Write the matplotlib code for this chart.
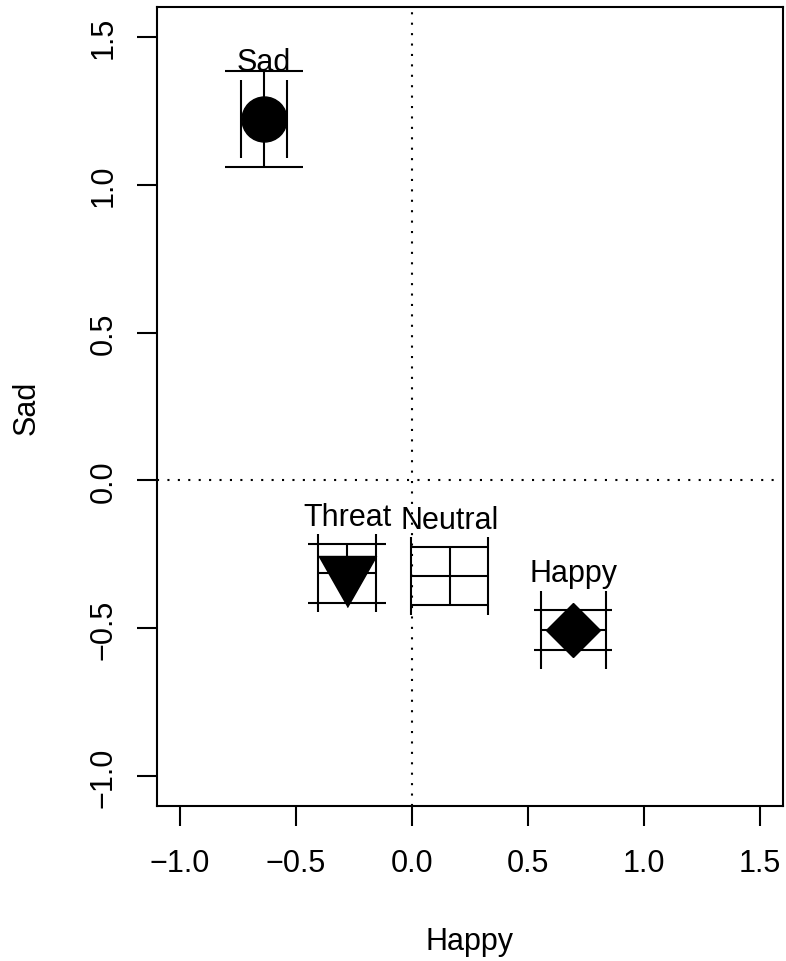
import numpy as np
import matplotlib
matplotlib.use("Agg")
import matplotlib.pyplot as plt

plt.rcParams['font.family'] = ['Liberation Sans', 'DejaVu Sans']

# emotion positions on the Happy / Sad dimensions
labels = ["Sad", "Threat", "Neutral", "Happy"]
happy = [-0.640, -0.280, 0.162, 0.696]
sad = [1.223, -0.314, -0.324, -0.505]
happy_err = [0.099, 0.125, 0.166, 0.140]
sad_err = [0.162, 0.101, 0.098, 0.069]

ticks = [-1.0, -0.5, 0.0, 0.5, 1.0, 1.5]

# triangle like R's pch 25 (point down, centred a bit high)
tri = [(-29, 17), (29, 17), (0, -34)]
styles = {"Sad": ("o", 32.4), "Threat": (tri, 49), "Neutral": (None, 0), "Happy": ("D", 28)}

fig = plt.figure(figsize=(7.86, 9.62), dpi=100)
ax = fig.add_axes([157/786, 1-807/962, (783-157)/786, (807-8)/962])

LW = 1.5
ax.axhline(0, color="black", lw=LW, ls=(0, (1, 4)), zorder=1)
ax.axvline(0, color="black", lw=LW, ls=(0, (1, 4)), zorder=1)

ax.errorbar(happy, sad, xerr=happy_err, yerr=sad_err, fmt="none", ecolor="black",
            elinewidth=LW, capsize=28, capthick=LW, zorder=2)

for lab, x, y in zip(labels, happy, sad):
    m, ms = styles[lab]
    if m is not None:
        ax.plot([x], [y], marker=m, ms=ms, color="black", mec="black", ls="none", zorder=3)
    ax.annotate(lab, (x, y), xytext=(0, 35), textcoords="offset points",
                ha="center", va="baseline", fontsize=22)

ax.set_xlim(-1.1, 1.6)
ax.set_ylim(-1.1, 1.6)
ax.set_xticks(ticks)
ax.set_yticks(ticks[:-1] + [1.5])
for s in ax.spines.values():
    s.set_linewidth(LW)

ax.tick_params(axis="both", direction="out", length=14.4, width=LW, labelsize=22)
ax.tick_params(axis="x", pad=16)
ax.tick_params(axis="y", pad=13, labelrotation=90)
for t in ax.get_yticklabels():
    t.set_va("center")

ax.set_xlabel("Happy", fontsize=22)
ax.xaxis.set_label_coords(0.5, -0.179)
ax.xaxis.label.set_va("baseline")
ax.set_ylabel("Sad", fontsize=22, rotation_mode="anchor", ha="center", va="baseline")
ax.yaxis.set_label_coords(-0.195, 0.5)

fig.savefig("out.png", dpi=100)
